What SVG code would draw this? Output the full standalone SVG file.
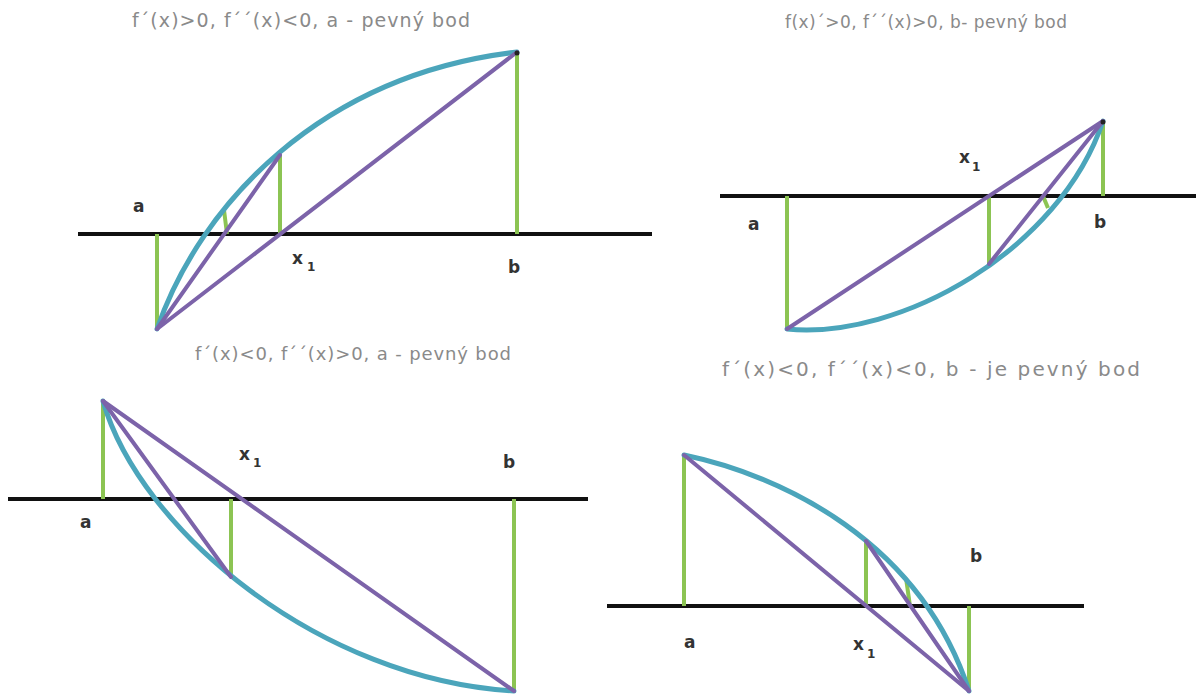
<svg xmlns="http://www.w3.org/2000/svg" width="1196" height="695" viewBox="0 0 1196 695">
<style>
.bg{fill:#ffffff}
.axis{stroke:#111111;stroke-width:4;fill:none}
.green{stroke:#8cc453;stroke-width:4;fill:none}
.curve{stroke:#4ba5bb;stroke-width:5;fill:none;stroke-linecap:round}
.chord{stroke:#7c63a9;stroke-width:4;fill:none;stroke-linecap:round}
.tip{fill:#222222}
.title{font-family:"DejaVu Sans","Verdana","Liberation Sans",sans-serif;fill:#8a8a8a}
.lbl{font-family:"DejaVu Sans","Verdana","Liberation Sans",sans-serif;font-weight:bold;font-size:17px;fill:#333333}
.sub{font-size:12px}
</style>
<rect class="bg" x="0" y="0" width="1196" height="695"/>

<g id="panel1">
  <text class="title" x="132" y="27" font-size="19" textLength="338" lengthAdjust="spacing">f´(x)&gt;0, f´´(x)&lt;0, a - pevný bod</text>
  <line class="axis" x1="78" y1="234" x2="652" y2="234"/>
  <line class="green" x1="157" y1="234" x2="157" y2="329"/>
  <line class="green" x1="280" y1="234" x2="280" y2="155"/>
  <line class="green" x1="517" y1="52" x2="517" y2="234"/>
  <line class="green" x1="227" y1="234" x2="224" y2="210"/>
  <path class="curve" d="M157,329 C200,205 320,75 517,52"/>
  <line class="chord" x1="157" y1="329" x2="517" y2="52"/>
  <line class="chord" x1="157" y1="329" x2="280" y2="155"/>
  <circle class="tip" cx="517" cy="53" r="2.5"/>
  <text class="lbl" x="133" y="212">a</text>
  <text class="lbl" x="292" y="264">x<tspan class="sub" x="307" y="271">1</tspan></text>
  <text class="lbl" x="508" y="273">b</text>
</g>

<g id="panel2">
  <text class="title" x="785" y="28" font-size="17" textLength="282" lengthAdjust="spacing">f(x)´&gt;0, f´´(x)&gt;0, b- pevný bod</text>
  <line class="axis" x1="720" y1="196" x2="1196" y2="196"/>
  <line class="green" x1="787" y1="196" x2="787" y2="329"/>
  <line class="green" x1="989" y1="196" x2="989" y2="264"/>
  <line class="green" x1="1103" y1="121" x2="1103" y2="196"/>
  <line class="green" x1="1043" y1="196" x2="1048" y2="208"/>
  <path class="curve" d="M787,329 C900,340 1060,250 1103,121"/>
  <line class="chord" x1="787" y1="329" x2="1103" y2="121"/>
  <line class="chord" x1="989" y1="264" x2="1103" y2="121"/>
  <circle class="tip" cx="1103" cy="122" r="2.5"/>
  <text class="lbl" x="748" y="230">a</text>
  <text class="lbl" x="959" y="163">x<tspan class="sub" x="972" y="171">1</tspan></text>
  <text class="lbl" x="1094" y="228">b</text>
</g>

<g id="panel3">
  <text class="title" x="195" y="360" font-size="18" textLength="316" lengthAdjust="spacing">f´(x)&lt;0, f´´(x)&gt;0, a - pevný bod</text>
  <line class="axis" x1="8" y1="499" x2="588" y2="499"/>
  <line class="green" x1="103" y1="401" x2="103" y2="499"/>
  <line class="green" x1="231" y1="499" x2="231" y2="577"/>
  <line class="green" x1="514" y1="499" x2="514" y2="691"/>
  <path class="curve" d="M103,401 C140,530 320,680 514,691"/>
  <line class="chord" x1="103" y1="401" x2="514" y2="691"/>
  <line class="chord" x1="103" y1="401" x2="231" y2="577"/>
  <text class="lbl" x="80" y="528">a</text>
  <text class="lbl" x="239" y="460">x<tspan class="sub" x="253" y="467">1</tspan></text>
  <text class="lbl" x="503" y="468">b</text>
</g>

<g id="panel4">
  <text class="title" x="722" y="376" font-size="20" textLength="418" lengthAdjust="spacing">f´(x)&lt;0, f´´(x)&lt;0, b - je pevný bod</text>
  <line class="axis" x1="607" y1="606" x2="1084" y2="606"/>
  <line class="green" x1="684" y1="455" x2="684" y2="606"/>
  <line class="green" x1="866" y1="606" x2="866" y2="541"/>
  <line class="green" x1="969" y1="606" x2="969" y2="691"/>
  <line class="green" x1="910" y1="606" x2="906" y2="578"/>
  <path class="curve" d="M684,455 C780,475 920,540 969,691"/>
  <line class="chord" x1="684" y1="455" x2="969" y2="691"/>
  <line class="chord" x1="866" y1="541" x2="969" y2="691"/>
  <text class="lbl" x="684" y="648">a</text>
  <text class="lbl" x="853" y="650">x<tspan class="sub" x="867" y="658">1</tspan></text>
  <text class="lbl" x="970" y="562">b</text>
</g>
</svg>
